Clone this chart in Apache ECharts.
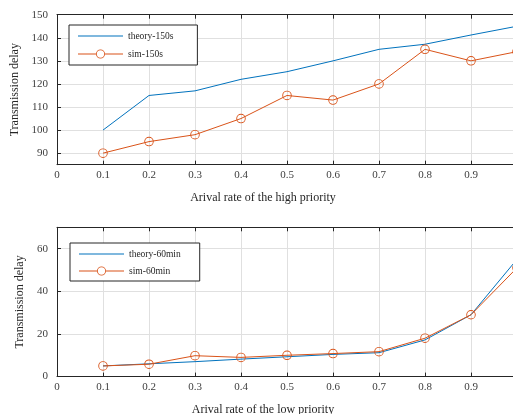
<!DOCTYPE html>
<html>
<head>
<meta charset="utf-8">
<script src="https://cdn.jsdelivr.net/npm/echarts@6/dist/echarts.min.js"></script>
<style>html,body{margin:0;padding:0;background:#fff}#c{width:513px;height:414px}</style>
</head>
<body>
<div id="c"></div>
<script>
const xValues = [0.1, 0.2, 0.3, 0.4, 0.5, 0.6, 0.7, 0.8, 0.9, 1.0];
const theory150s = [100, 115, 117, 122, 125.3, 130, 135, 137.2, 141.2, 145];
const sim150s = [90, 95, 98, 105, 115, 113, 120, 135, 130, 134];
const theory60min = [5, 6, 7, 8.2, 9.3, 10.4, 11.2, 17.2, 29, 55];
const sim60min = [5, 5.8, 9.8, 9, 10, 10.8, 11.7, 18, 29, 51];
const topYTicks = [90, 100, 110, 120, 130, 140, 150];
const bottomYTicks = [0, 20, 40, 60];
const xTicks = [0, 0.1, 0.2, 0.3, 0.4, 0.5, 0.6, 0.7, 0.8, 0.9, 1.0];

const BLUE = '#0072BD', ORANGE = '#D95319', AX = '#262626', LBL = '#404040', GRID = '#e0e0e0';
const FONT = 'Liberation Serif';

// thin ring marker (transparent inside, like MATLAB 'o')
const RING = 'path://M0,5 A5,5 0 1,1 10,5 A5,5 0 1,1 0,5 Z M0.95,5 A4.05,4.05 0 1,0 9.05,5 A4.05,4.05 0 1,0 0.95,5 Z';
const LEG_LINE = 'path://M0,0 L45,0 L45,1.2 L0,1.2 Z';
const LEG_RING = 'path://M0,4 L18,4 L18,5 L0,5 Z M27,4 L45,4 L45,5 L27,5 Z ' +
  'M18,4.5 A4.5,4.5 0 1,1 27,4.5 A4.5,4.5 0 1,1 18,4.5 Z M18.85,4.5 A3.65,3.65 0 1,0 26.15,4.5 A3.65,3.65 0 1,0 18.85,4.5 Z';

function pairs(ys){ return xValues.map((x,i)=>[x, ys[i]]); }

function xAxes(gi, name){
  return [{
    gridIndex: gi, type: 'value', min: 0, max: 1,
    axisTick: {inside: true, length: 4, customValues: xTicks, lineStyle:{color:AX}},
    axisLabel: {customValues: xTicks, color: LBL, fontFamily: FONT, fontSize: 11, margin: 5,
      formatter: v => (Math.round(v*10)/10).toString()},
    axisLine: {onZero: false, lineStyle:{color: AX, width: 1}},
    splitLine: {show: true, lineStyle:{color: GRID}},
    name: name, nameLocation: 'middle', nameGap: 27,
    nameTextStyle: {fontFamily: FONT, fontSize: 12, color: AX, padding: [0, 48, 0, 0]}
  },{
    gridIndex: gi, type: 'value', min: 0, max: 1, position: 'top',
    axisTick: {inside: true, length: 4, customValues: xTicks, lineStyle:{color:AX}},
    axisLabel: {show: false},
    axisLine: {onZero: false, lineStyle:{color: AX, width: 1}},
    splitLine: {show: false}
  }];
}
function yAxis(gi, min, max, ticks, gap){
  return {
    gridIndex: gi, type: 'value', min: min, max: max,
    axisTick: {inside: true, length: 4, customValues: ticks, lineStyle:{color:AX}},
    axisLabel: {customValues: ticks, color: LBL, fontFamily: FONT, fontSize: 11, margin: 9},
    axisLine: {show: true, onZero: false, lineStyle:{color: AX, width: 1}},
    splitLine: {show: true, lineStyle:{color: GRID}},
    name: 'Transmission delay', nameLocation: 'middle', nameGap: gap,
    nameTextStyle: {fontFamily: FONT, fontSize: 12, color: AX}
  };
}
function lineSeries(name, data, color, xi, yi, marker){
  return {
    name: name, type: 'line', xAxisIndex: xi, yAxisIndex: yi, data: pairs(data),
    symbol: marker ? RING : 'none', symbolSize: 9.5, showSymbol: !!marker,
    itemStyle: {color: color, borderWidth: 0},
    lineStyle: {color: color, width: 1},
    emphasis: {disabled: true},
    z: marker ? 3 : 2,
    animation: false
  };
}
function legend(names, left, top, gap, pad){
  return {
    data: [{name: names[0], icon: LEG_LINE}, {name: names[1], icon: LEG_RING}],
    orient: 'vertical', left: left, top: top,
    backgroundColor: '#fff', borderColor: AX, borderWidth: 1,
    padding: pad, itemGap: gap, itemWidth: 45, itemHeight: 9,
    symbolKeepAspect: true,
    itemStyle: {borderWidth: 0},
    textStyle: {fontFamily: FONT, fontSize: 9.5, color: AX}
  };
}

const chart = echarts.init(document.getElementById('c'), null, {renderer: 'canvas'});
chart.setOption({
  animation: false,
  grid: [
    {left: 57, top: 14.7, width: 460, height: 150, containLabel: false, outerBoundsMode: 'none'},
    {left: 57, top: 227.3, width: 460, height: 149.3, containLabel: false, outerBoundsMode: 'none'}
  ],
  xAxis: [...xAxes(0, 'Arival rate of the high priority'), ...xAxes(1, 'Arival rate of the low priority')],
  yAxis: [yAxis(0, 85, 150, topYTicks, 34), yAxis(1, 0, 70, bottomYTicks, 26)],
  legend: [
    legend(['theory-150s', 'sim-150s'], 69, 25, 8, [6, 24, 6, 9]),
    legend(['theory-60min', 'sim-60min'], 70, 243, 7, [6, 19, 5, 9])
  ],
  series: [
    lineSeries('theory-150s', theory150s, BLUE, 0, 0, false),
    lineSeries('sim-150s', sim150s, ORANGE, 0, 0, true),
    lineSeries('theory-60min', theory60min, BLUE, 2, 1, false),
    lineSeries('sim-60min', sim60min, ORANGE, 2, 1, true)
  ]
});
</script>
</body>
</html>
